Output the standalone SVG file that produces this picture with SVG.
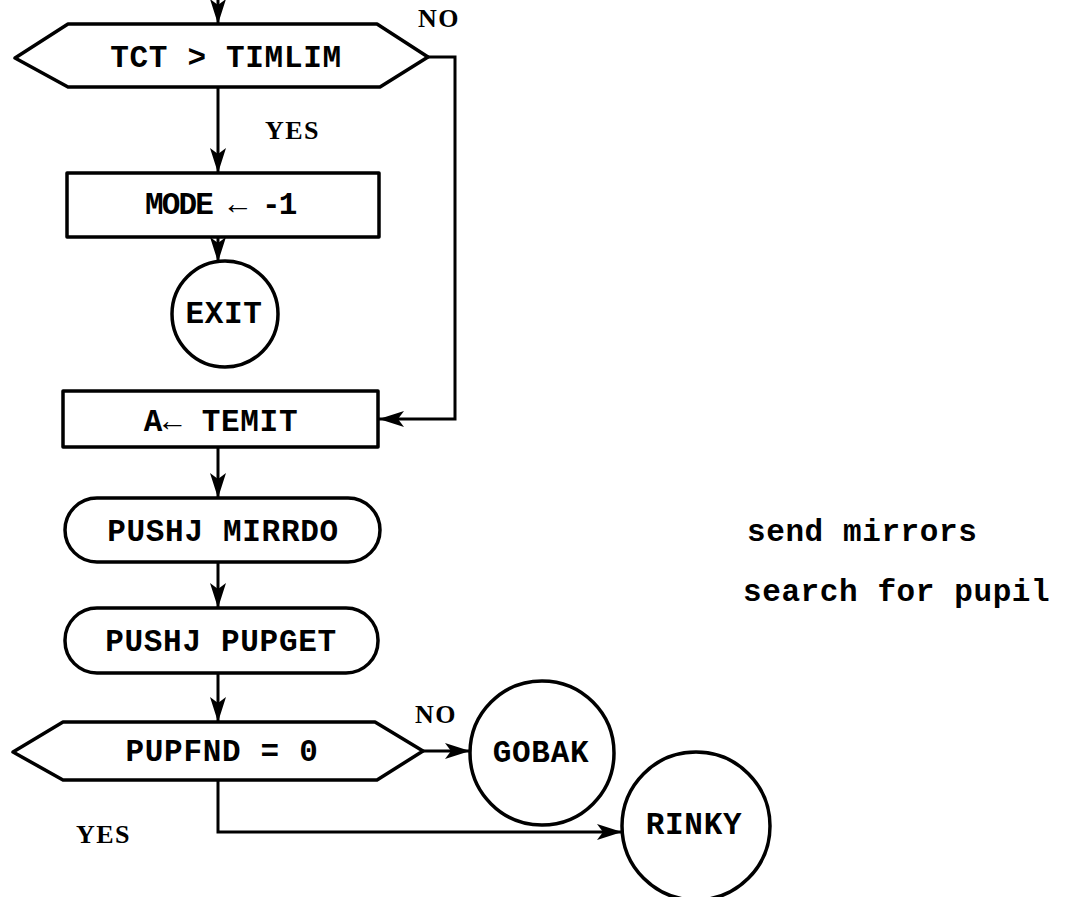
<svg xmlns="http://www.w3.org/2000/svg" width="1066" height="897" viewBox="0 0 1066 897">
<defs>
<style>
.shape{fill:#fff;stroke:#000;stroke-width:3.5;stroke-linejoin:round}
.conn{fill:none;stroke:#000;stroke-width:3}
.t{font-family:"Liberation Mono","DejaVu Sans Mono",monospace;font-weight:bold;font-size:31px;letter-spacing:0.7px;fill:#000;text-anchor:middle}
.note{font-family:"Liberation Mono","DejaVu Sans Mono",monospace;font-weight:bold;font-size:31px;letter-spacing:0.6px;fill:#000}
.lbl{font-family:"Liberation Serif","DejaVu Serif",serif;font-weight:bold;font-size:26px;letter-spacing:1.5px;fill:#000}
</style>
<marker id="arr" markerUnits="userSpaceOnUse" markerWidth="26" markerHeight="18" refX="25" refY="9" orient="auto">
<path d="M0,1 L25,9 L0,17 L6,9 Z" fill="#000"/>
</marker>
</defs>
<rect width="1066" height="897" fill="#fff"/>
<g id="connectors">
<path class="conn" d="M218,-4 L218,24" marker-end="url(#arr)"/>
<path class="conn" d="M218,87 L218,173" marker-end="url(#arr)"/>
<path class="conn" d="M218,237 L218,262" marker-end="url(#arr)"/>
<path class="conn" d="M428,57 L455,57 L455,419 L379,419" marker-end="url(#arr)"/>
<path class="conn" d="M218,447 L218,498" marker-end="url(#arr)"/>
<path class="conn" d="M218,562 L218,608" marker-end="url(#arr)"/>
<path class="conn" d="M218,673 L218,722" marker-end="url(#arr)"/>
<path class="conn" d="M423,751 L470,751" marker-end="url(#arr)"/>
<path class="conn" d="M218,780 L218,832 L622,832" marker-end="url(#arr)"/>
<text class="lbl" x="418" y="27">NO</text>
<text class="lbl" x="265" y="139">YES</text>
<text class="lbl" x="415" y="723">NO</text>
<text class="lbl" x="76" y="843">YES</text>
</g>
<g id="dec1">
<polygon class="shape" points="15,58 68,24 377,24 428,57 380,87 68,87"/>
<text class="t" x="226" y="67">TCT &gt; TIMLIM</text>
</g>
<g id="mode">
<rect class="shape" x="67" y="173" width="312" height="64"/>
<text class="t" x="145" y="214" style="text-anchor:start" textLength="153" lengthAdjust="spacing">MODE ← -1</text>
</g>
<g id="exit">
<circle class="shape" cx="225" cy="314" r="53"/>
<text class="t" x="224" y="323">EXIT</text>
</g>
<g id="temit">
<rect class="shape" x="63" y="391" width="315" height="56"/>
<text class="t" x="221" y="431">A← TEMIT</text>
</g>
<g id="mirrdo">
<rect class="shape" x="65" y="498" width="315" height="64" rx="32"/>
<text class="t" x="223" y="541">PUSHJ MIRRDO</text>
</g>
<g id="pupget">
<rect class="shape" x="65" y="608" width="313" height="65" rx="32"/>
<text class="t" x="221" y="651">PUSHJ PUPGET</text>
</g>
<g id="dec2">
<polygon class="shape" points="13,752 63,722 375,722 423,751 377,780 63,780"/>
<text class="t" x="222" y="761">PUPFND = 0</text>
</g>
<g id="gobak">
<circle class="shape" cx="542" cy="753" r="72"/>
<text class="t" x="541" y="762">GOBAK</text>
</g>
<g id="rinky">
<circle class="shape" cx="696" cy="826" r="74"/>
<text class="t" x="694" y="834">RINKY</text>
</g>
<g id="notes">
<text class="note" x="747" y="541">send mirrors</text>
<text class="note" x="743" y="601">search for pupil</text>
</g>
</svg>
